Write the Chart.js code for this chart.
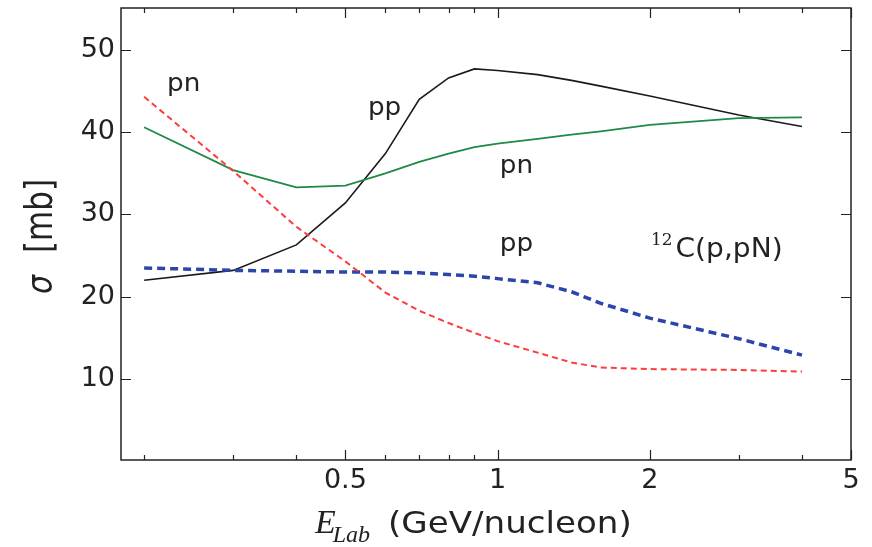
<!DOCTYPE html>
<html>
<head>
<meta charset="utf-8">
<script src="https://cdn.jsdelivr.net/npm/chart.js@4/dist/chart.umd.min.js"></script>
<style>
html,body{margin:0;padding:0;background:#fff;}
#wrap{width:872px;height:547px;position:relative;}
</style>
</head>
<body>
<div id="wrap"><canvas id="c" width="872" height="547"></canvas></div>
<script>
// ---- data ----
const energies   = [0.2, 0.3, 0.4, 0.5, 0.6, 0.7, 0.8, 0.9, 1.0, 1.2, 1.4, 1.6, 2, 3, 4];
const ppFree     = [22.0, 23.2, 26.3, 31.4, 37.4, 44.0, 46.6, 47.7, 47.5, 47.0, 46.3, 45.6, 44.4, 42.1, 40.7];
const pnFree     = [40.6, 35.4, 33.3, 33.5, 35.0, 36.4, 37.4, 38.2, 38.6, 39.2, 39.7, 40.1, 40.9, 41.7, 41.8];
const pnMedium   = [44.3, 35.3, 28.5, 24.3, 20.5, 18.3, 16.8, 15.6, 14.6, 13.2, 12.0, 11.4, 11.2, 11.1, 10.9];
const ppMedium   = [23.5, 23.2, 23.1, 23.0, 23.0, 22.9, 22.7, 22.5, 22.2, 21.7, 20.6, 19.2, 17.4, 14.9, 12.9];

const xTickValues  = [0.2, 0.3, 0.4, 0.5, 0.6, 0.7, 0.8, 0.9, 1, 2, 3, 4, 5];
const xMajorTicks  = [0.5, 1, 2, 5];
const xTickLabels  = ['0.5', '1', '2', '5'];
const yTickValues  = [10, 20, 30, 40, 50];

const annotationTexts = ['pn', 'pp', 'pn', 'pp'];
const annotationX     = [0.222, 0.554, 1.01, 1.01];
const annotationY     = [45.0, 42.1, 35.0, 25.5];
const reactionLabel   = {sup: '12', main: 'C(p,pN)', x: 2.01, y: 24.8};

const toPts = (ys) => energies.map((e, i) => ({x: e, y: ys[i]}));

const framePlugin = {
  id: 'frame',
  afterDraw(chart) {
    const ctx = chart.ctx;
    const a = chart.chartArea;
    const xs = chart.scales.x, ys = chart.scales.y;
    ctx.save();
    // frame
    ctx.strokeStyle = '#222';
    ctx.lineWidth = 1.5;
    ctx.strokeRect(a.left, a.top, a.right - a.left, a.bottom - a.top);
    // inward ticks
    ctx.lineWidth = 1.2;
    ctx.beginPath();
    xTickValues.forEach(v => {
      const px = Math.round(xs.getPixelForValue(v)) + 0.5;
      const len = xMajorTicks.includes(v) ? 10 : 5;
      ctx.moveTo(px, a.bottom); ctx.lineTo(px, a.bottom - len);
      ctx.moveTo(px, a.top); ctx.lineTo(px, a.top + len);
    });
    yTickValues.forEach(v => {
      const py = Math.round(ys.getPixelForValue(v)) + 0.5;
      ctx.moveTo(a.left, py); ctx.lineTo(a.left + 10, py);
      ctx.moveTo(a.right, py); ctx.lineTo(a.right - 10, py);
    });
    ctx.stroke();

    // annotations
    ctx.fillStyle = '#222';
    ctx.textBaseline = 'alphabetic';
    ctx.textAlign = 'left';
    annotationTexts.forEach((t, i) => {
      const px = xs.getPixelForValue(annotationX[i]);
      const py = ys.getPixelForValue(annotationY[i]);
      ctx.save();
      ctx.translate(px, py);
      ctx.scale(1.05, 1);
      ctx.font = '25px "DejaVu Sans"';
      ctx.fillText(t, 0, 0);
      ctx.restore();
    });
    {
      const px = xs.getPixelForValue(reactionLabel.x);
      const py = ys.getPixelForValue(reactionLabel.y);
      ctx.font = '17px "DejaVu Serif"';
      ctx.fillText(reactionLabel.sup, px, py - 12);
      const w = ctx.measureText(reactionLabel.sup).width;
      ctx.save();
      ctx.translate(px + w + 3, py);
      ctx.scale(1.04, 1);
      ctx.font = '27px "DejaVu Sans"';
      ctx.fillText(reactionLabel.main, 0, 0);
      ctx.restore();
    }

    // x title
    {
      const by = 533;
      let x = 315;
      ctx.font = 'italic 34px "Liberation Serif"';
      ctx.fillText('E', x, by);
      x += ctx.measureText('E').width - 3;
      ctx.font = 'italic 24px "Liberation Serif"';
      ctx.fillText('Lab', x, by + 9);
      ctx.save();
      ctx.translate(388, by);
      ctx.scale(1.1, 1);
      ctx.font = '31px "DejaVu Sans"';
      ctx.fillText('(GeV/nucleon)', 0, 0);
      ctx.restore();
    }
    // y title
    {
      ctx.save();
      ctx.translate(52, 0);
      ctx.rotate(-Math.PI / 2);
      ctx.scale(1, 1.2);
      ctx.font = 'italic 30px "DejaVu Sans"';
      ctx.fillText('σ', -294, 0);
      ctx.font = '31px "DejaVu Sans"';
      ctx.fillText('[mb]', -253, 0);
      ctx.restore();
    }
    ctx.restore();
  }
};

new Chart(document.getElementById('c'), {
  type: 'line',
  data: {
    datasets: [
      {label: 'pn medium', data: toPts(pnMedium), borderColor: '#ff3b3b', borderWidth: 2, borderDash: [6, 4], pointRadius: 0, fill: false, tension: 0},
      {label: 'pp medium', data: toPts(ppMedium), borderColor: '#2b45aa', borderWidth: 3.5, borderDash: [8, 5], pointRadius: 0, fill: false, tension: 0},
      {label: 'pn free', data: toPts(pnFree), borderColor: '#1f8a45', borderWidth: 1.8, pointRadius: 0, fill: false, tension: 0},
      {label: 'pp free', data: toPts(ppFree), borderColor: '#1a1a1a', borderWidth: 1.6, pointRadius: 0, fill: false, tension: 0}
    ]
  },
  options: {
    responsive: false,
    animation: false,
    devicePixelRatio: 1,
    layout: {padding: {top: 8, right: 21, left: 0, bottom: 0}},
    plugins: {legend: {display: false}, tooltip: {enabled: false}},
    scales: {
      x: {
        type: 'logarithmic',
        min: 0.18, max: 5,
        grid: {display: false, drawTicks: false},
        border: {display: false},
        afterBuildTicks: (s) => { s.ticks = xTickValues.map(v => ({value: v})); },
        afterFit: (s) => { s.height = 87; s.paddingLeft = 0; s.paddingRight = 0; },
        ticks: {
          autoSkip: false, maxRotation: 0, padding: 5,
          color: '#222',
          font: {family: 'DejaVu Sans', size: 27},
          callback: (v) => { const i = xMajorTicks.indexOf(v); return i >= 0 ? xTickLabels[i] : ''; }
        }
      },
      y: {
        type: 'linear',
        min: 0.15, max: 55.1,
        grid: {display: false, drawTicks: false},
        border: {display: false},
        afterBuildTicks: (s) => { s.ticks = yTickValues.map(v => ({value: v})); },
        afterFit: (s) => { s.width = 121; s.paddingTop = 0; s.paddingBottom = 0; },
        ticks: {
          padding: 6, color: '#222',
          font: {family: 'DejaVu Sans', size: 27},
          callback: (v) => String(v)
        }
      }
    }
  },
  plugins: [framePlugin]
});
</script>
</body>
</html>
